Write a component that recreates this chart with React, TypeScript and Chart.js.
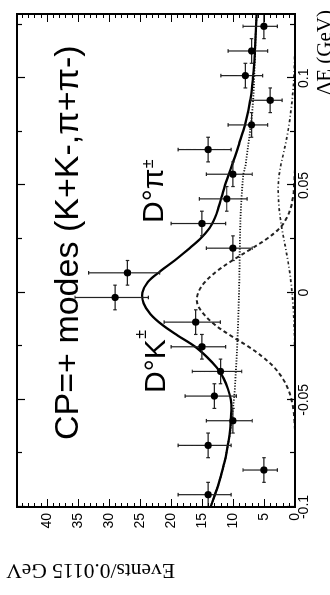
import React, { useEffect, useRef } from "react";
import { Chart, registerables } from "chart.js";

Chart.register(...registerables);

// Data: ΔE bins of 0.0115 GeV, centres in GeV
const binCenters = [
  -0.09425, -0.08275, -0.07125, -0.05975, -0.04825, -0.03675, -0.02525, -0.01375, -0.00225, 0.00925,
  0.02075, 0.03225, 0.04375, 0.05525, 0.06675, 0.07825, 0.08975, 0.10125, 0.11275, 0.12425,
];
const counts = [14, 5, 14, 10, 13, 12, 15, 16, 29, 27, 10, 15, 11, 10, 14, 7, 4, 8, 7, 5];
const errHigh = [4.83, 3.38, 4.83, 4.27, 4.7, 4.56, 4.96, 5.08, 6.45, 6.27, 4.27, 4.96, 4.42, 4.27, 4.83, 3.77, 3.16, 3.95, 3.77, 3.38];
const errLow = [3.7, 2.16, 3.7, 3.11, 3.56, 3.42, 3.83, 3.96, 5.36, 5.17, 3.11, 3.83, 3.27, 3.11, 3.7, 2.58, 1.91, 2.77, 2.58, 2.16];
const binHalfWidth = 0.00575;

// Fit curves sampled along ΔE
const curveX = [
  -0.1, -0.095, -0.09, -0.085, -0.08, -0.075, -0.07, -0.065, -0.06, -0.055, -0.05, -0.045, -0.04, -0.035, -0.03, -0.025,
  -0.02, -0.015, -0.01, -0.005, 0, 0.005, 0.01, 0.015, 0.02, 0.025, 0.03, 0.035, 0.04, 0.045, 0.05, 0.055,
  0.06, 0.065, 0.07, 0.075, 0.08, 0.085, 0.09, 0.095, 0.1, 0.105, 0.11, 0.115, 0.12, 0.125, 0.13,
];
const fitTotal = [
  13.6, 13.0, 12.4, 11.9, 11.45, 11.05, 10.75, 10.5, 10.35, 10.25, 10.35, 10.8, 11.5, 12.6, 14.2, 16.2,
  18.9, 21.4, 23.3, 24.4, 24.6, 23.7, 21.7, 19.4, 17.3, 15.3, 13.8, 12.9, 12.3, 11.8, 11.3, 10.7,
  10.1, 9.5, 8.95, 8.4, 7.9, 7.5, 7.2, 6.95, 6.78, 6.62, 6.5, 6.43, 6.35, 6.28, 6.2,
];
const fitDK = [
  0, 0, 0, 0, 0, 0, 0, 0, 0.1, 0.25, 0.55, 1.1, 2.0, 3.3, 5.2, 7.6,
  10.4, 12.9, 14.7, 15.75, 15.6, 14.5, 12.6, 10.1, 7.3, 4.6, 2.5, 1.3, 0.65, 0.3, 0.15, 0.05,
  0, 0, 0, 0, 0, 0, 0, 0, 0, 0, 0, 0, 0, 0, 0,
];
const fitDPi = [
  0, 0, 0, 0, 0, 0, 0, 0, 0, 0, 0, 0, 0, 0, 0.02, 0.05,
  0.08, 0.14, 0.22, 0.33, 0.47, 0.65, 0.88, 1.15, 1.46, 1.8, 2.12, 2.38, 2.57, 2.68, 2.7, 2.55,
  2.25, 1.85, 1.48, 1.15, 0.88, 0.65, 0.45, 0.3, 0.18, 0.1, 0.05, 0.02, 0, 0, 0,
];
const fitBkg = [
  13.6, 13.0, 12.4, 11.9, 11.45, 11.05, 10.75, 10.45, 10.25, 10.05, 9.85, 9.7, 9.6, 9.5, 9.4, 9.32,
  9.25, 9.18, 9.12, 9.07, 9.02, 8.98, 8.95, 8.92, 8.9, 8.87, 8.83, 8.78, 8.7, 8.6, 8.48, 8.32,
  7.95, 7.72, 7.48, 7.25, 7.05, 6.88, 6.75, 6.65, 6.57, 6.52, 6.45, 6.4, 6.34, 6.27, 6.2,
];

// Axes
const xMin = -0.1;
const xMax = 0.13;
const yMin = 0;
const yMax = 44.8;
const xTickValues = [-0.1, -0.05, 0, 0.05, 0.1];
const xMinorTicks = [-0.075, -0.025, 0.025, 0.075, 0.125];
const yTickValues = [0, 5, 10, 15, 20, 25, 30, 35, 40];

const xTitle = "ΔE (GeV)";
const yTitle = "Events/0.0115 GeV";
const modeLabel = "CP=+ modes (K+K-,π+π-)";

const SANS = '"Liberation Sans", Arial, sans-serif';
const SERIF = '"Liberation Serif", "Times New Roman", serif';
const POINTS_INDEX = 0;

const toXY = (xs: number[], ys: number[]) => xs.map((x, i) => ({ x, y: ys[i] }));

function drawSuperLabel(ctx: CanvasRenderingContext2D, main: string, sup: string, x: number, y: number, supDy: number) {
  ctx.font = `30px ${SANS}`;
  ctx.fillText(main, x, y);
  const w = ctx.measureText(main).width;
  ctx.font = `16px ${SANS}`;
  ctx.fillText(sup, x + w + 0.5, y - supDy);
}

const figurePlugin = {
  id: "figureDecor",
  beforeDraw(chart: any) {
    const { ctx, width, height } = chart;
    ctx.save();
    ctx.fillStyle = "#fff";
    ctx.fillRect(0, 0, width, height);
    ctx.restore();
  },
  beforeDatasetDraw(chart: any, args: any) {
    if (args.index !== POINTS_INDEX) return;
    const { ctx } = chart;
    const xs = chart.scales.x;
    const ys = chart.scales.y;
    const cap = 1.8;
    ctx.save();
    ctx.strokeStyle = "#222";
    ctx.lineWidth = 1.2;
    ctx.beginPath();
    binCenters.forEach((c, i) => {
      const px = xs.getPixelForValue(c);
      const py = ys.getPixelForValue(counts[i]);
      const yTop = ys.getPixelForValue(counts[i] + errHigh[i]);
      const yBot = ys.getPixelForValue(counts[i] - errLow[i]);
      const xL = xs.getPixelForValue(c - binHalfWidth);
      const xR = xs.getPixelForValue(c + binHalfWidth);
      ctx.moveTo(px, yTop);
      ctx.lineTo(px, yBot);
      ctx.moveTo(px - cap, yTop);
      ctx.lineTo(px + cap, yTop);
      ctx.moveTo(px - cap, yBot);
      ctx.lineTo(px + cap, yBot);
      ctx.moveTo(xL, py);
      ctx.lineTo(xR, py);
      ctx.moveTo(xL, py - cap);
      ctx.lineTo(xL, py + cap);
      ctx.moveTo(xR, py - cap);
      ctx.lineTo(xR, py + cap);
    });
    ctx.stroke();
    ctx.restore();
  },
  afterDraw(chart: any) {
    const { ctx, chartArea } = chart;
    const { left, right, top, bottom } = chartArea;
    const xs = chart.scales.x;
    const ys = chart.scales.y;
    ctx.save();
    ctx.strokeStyle = "#000";

    // inward tick marks on all four sides
    ctx.lineWidth = 1.2;
    ctx.beginPath();
    const xTick = (v: number, len: number) => {
      const p = Math.round(xs.getPixelForValue(v)) + 0.5;
      ctx.moveTo(p, bottom);
      ctx.lineTo(p, bottom - len);
      ctx.moveTo(p, top);
      ctx.lineTo(p, top + len);
    };
    xTickValues.forEach((v) => xTick(v, 8));
    xMinorTicks.forEach((v) => xTick(v, 5));
    for (let v = 1; v < yMax; v++) {
      const len = v % 5 === 0 ? 8 : 4;
      const p = Math.round(ys.getPixelForValue(v)) + 0.5;
      ctx.moveTo(left, p);
      ctx.lineTo(left + len, p);
      ctx.moveTo(right, p);
      ctx.lineTo(right - len, p);
    }
    ctx.stroke();

    // frame
    ctx.lineWidth = 2;
    ctx.strokeRect(left, top, right - left, bottom - top);

    // annotations
    ctx.fillStyle = "#000";
    ctx.textBaseline = "alphabetic";
    ctx.textAlign = "left";
    ctx.font = `34px ${SANS}`;
    ctx.fillText(modeLabel, left + 67, top + 61);
    drawSuperLabel(ctx, "D°K", "±", left + 114, top + 148, 19);
    drawSuperLabel(ctx, "D°π", "±", left + 284, top + 146, 10);

    // axis titles
    ctx.font = `21px ${SERIF}`;
    ctx.textAlign = "right";
    ctx.fillText(xTitle, right + 4, bottom + 36);

    ctx.save();
    ctx.translate(left - 57, top + 158);
    ctx.rotate(-Math.PI / 2);
    ctx.font = `21.5px ${SERIF}`;
    ctx.textAlign = "left";
    ctx.fillText(yTitle, 0, 0);
    ctx.restore();

    ctx.restore();
  },
};

export default function App() {
  const canvasRef = useRef<HTMLCanvasElement>(null);

  useEffect(() => {
    const canvas = canvasRef.current;
    if (!canvas) return;
    const chart = new Chart(canvas, {
      type: "scatter",
      data: {
        datasets: [
          {
            label: "Data",
            data: toXY(binCenters, counts),
            pointRadius: 3.6,
            pointBackgroundColor: "#000",
            pointBorderColor: "#000",
            pointBorderWidth: 0,
            showLine: false,
          },
          {
            label: "Total",
            data: toXY(curveX, fitTotal),
            showLine: true,
            borderColor: "#000",
            borderWidth: 2.3,
            pointRadius: 0,
            tension: 0.35,
          },
          {
            label: "D K",
            data: toXY(curveX, fitDK),
            showLine: true,
            borderColor: "#222",
            borderWidth: 2,
            borderDash: [4, 3],
            pointRadius: 0,
            tension: 0.35,
          },
          {
            label: "D pi",
            data: toXY(curveX, fitDPi),
            showLine: true,
            borderColor: "#222",
            borderWidth: 1.7,
            borderDash: [3, 2.5, 1, 2.5],
            pointRadius: 0,
            tension: 0.35,
          },
          {
            label: "Background",
            data: toXY(curveX, fitBkg),
            showLine: true,
            borderColor: "#111",
            borderWidth: 1.8,
            borderDash: [1.2, 1.6],
            pointRadius: 0,
            tension: 0.35,
          },
        ],
      },
      options: {
        responsive: false,
        devicePixelRatio: 1,
        animation: false,
        events: [],
        layout: { padding: { left: 48, right: 14, top: 17, bottom: 0 } },
        plugins: { legend: { display: false }, tooltip: { enabled: false } },
        scales: {
          x: {
            type: "linear",
            min: xMin,
            max: xMax,
            afterBuildTicks: (s: any) => {
              s.ticks = xTickValues.map((value) => ({ value }));
            },
            afterFit: (s: any) => {
              s.height = 35;
            },
            grid: { display: false, drawTicks: false },
            border: { display: false },
            ticks: {
              color: "#000",
              font: { family: SANS, size: 14 },
              padding: 1,
              maxRotation: 0,
              autoSkip: false,
              callback: (v: any) => String(Number(Number(v).toFixed(3))),
            },
          },
          y: {
            type: "linear",
            min: yMin,
            max: yMax,
            afterBuildTicks: (s: any) => {
              s.ticks = yTickValues.map((value) => ({ value }));
            },
            afterFit: (s: any) => {
              s.width = 40;
            },
            grid: { display: false, drawTicks: false },
            border: { display: false },
            ticks: {
              color: "#000",
              font: { family: SANS, size: 14 },
              padding: 6,
              autoSkip: false,
              callback: (v: any) => String(v),
            },
          },
        },
      },
      plugins: [figurePlugin],
    } as any);
    return () => chart.destroy();
  }, []);

  return (
    <div
      style={{
        position: "fixed",
        left: 0,
        top: 0,
        width: 330,
        height: 595,
        overflow: "hidden",
        background: "#fff",
      }}
    >
      <div
        style={{
          position: "absolute",
          left: 0,
          top: 0,
          width: 595,
          height: 330,
          transformOrigin: "0 0",
          transform: "translate(0px, 595px) rotate(-90deg)",
        }}
      >
        <canvas ref={canvasRef} width={595} height={330} style={{ display: "block", width: 595, height: 330 }} />
      </div>
    </div>
  );
}
